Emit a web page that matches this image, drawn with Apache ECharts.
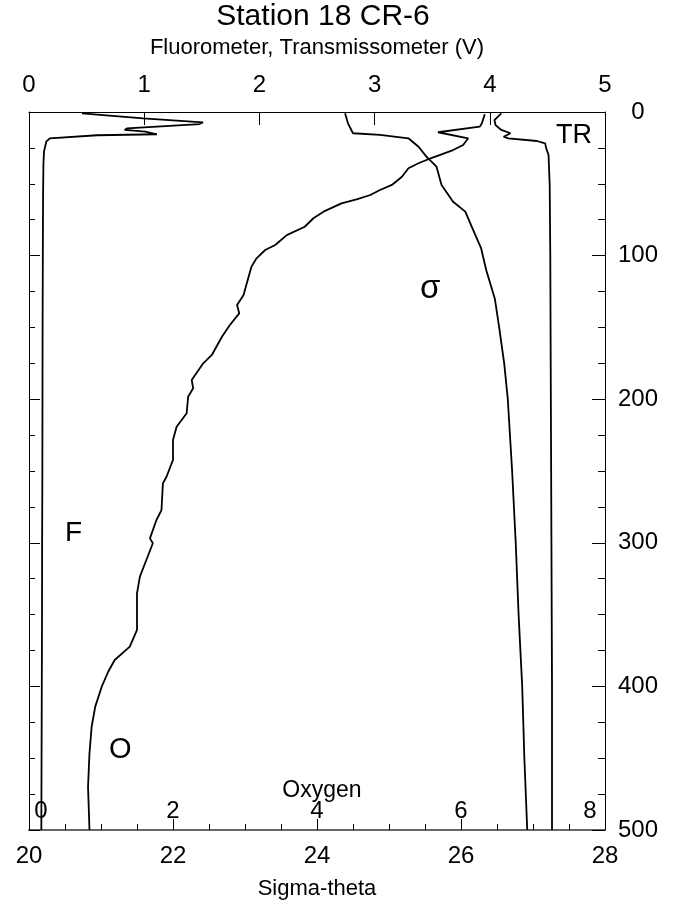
<!DOCTYPE html>
<html>
<head>
<meta charset="utf-8">
<script src="https://cdn.jsdelivr.net/npm/echarts@6/dist/echarts.min.js"></script>
<style>
html,body{margin:0;padding:0;background:#fff;}
#chart{width:685px;height:909px;}
</style>
</head>
<body>
<div id="chart"></div>
<script>
// ---- Data (depth in m) ----
const fluoDepth = [0.9,4.4,7.2,8.4,11.4,12.5,13.7,15.5,16.2,18.3,20.7,27.6,36.9,60,100,150,200,250,300,350,400,450,500];
const fluoV     = [0.46,0.99,1.51,1.48,0.85,0.83,1.01,1.11,0.59,0.18,0.15,0.13,0.125,0.122,0.12,0.118,0.117,0.116,0.114,0.113,0.111,0.109,0.107];

const trDepth = [0.9,5.6,9.1,12.5,14.8,17.2,18.3,20.2,21.8,25.3,29.9,50.8,100,200,300,400,500];
const trV     = [4.10,4.04,4.05,4.10,4.18,4.12,4.16,4.41,4.48,4.49,4.51,4.52,4.525,4.53,4.535,4.54,4.54];

const sigDepth = [0.9,7.9,14.8,16.0,18.3,24.2,31.1,38.1,50.8,62.5,69.4,80,95,110,130,150,175,200,250,300,350,400,450,500];
const sigma    = [24.39,24.43,24.50,24.875,25.27,25.41,25.52,25.66,25.73,25.89,26.06,26.15,26.28,26.35,26.47,26.53,26.60,26.65,26.71,26.76,26.80,26.85,26.88,26.92];

const oxyDepth = [1.6,7.9,10.2,14.1,18.3,23.0,26.5,29.9,33.4,35.7,39.2,45.1,50.8,54.3,57.8,60.8,63.6,69.4,74.0,79.9,85.7,92.6,96.1,101.9,107.7,114.7,127.4,134.4,140.2,148.3,156.5,169.2,175.0,186.6,192.4,198.3,209.8,219.2,228.4,242.3,254.0,258.6,277.2,284.1,296.9,300.3,312.0,323.6,335.2,360.7,372.3,381.6,389.8,400.2,414.1,428.1,446.6,469.9,500];
const oxygen   = [6.33,6.29,6.26,5.68,6.10,6.03,5.89,5.71,5.52,5.41,5.27,5.18,5.04,4.875,4.74,4.55,4.34,4.09,3.95,3.83,3.58,3.42,3.28,3.16,3.09,3.05,2.98,2.89,2.92,2.79,2.68,2.54,2.42,2.26,2.28,2.21,2.19,2.05,2.00,2.00,1.91,1.86,1.84,1.77,1.68,1.72,1.63,1.54,1.50,1.50,1.40,1.19,1.10,1.01,0.92,0.87,0.84,0.82,0.84];

// Axis ranges / ticks
const topTicks   = {min:0, max:5, interval:1};
const sigmaTicks = {min:20, max:28, interval:2};
const oxyTicks   = {min:0, max:8, interval:2};
const depthTicks = {min:0, max:500, interval:100};

const FONT = 'Liberation Sans, Arial, sans-serif';
const pair = (xs, ys) => ys.map((d, i) => [xs[i], d]);

const chart = echarts.init(document.getElementById('chart'), null, {renderer:'canvas'});
const lineStyle = {color:'#000', width:1.8};
const LBL = 24;

chart.setOption({
  animation:false,
  backgroundColor:'#fff',
  title:[
    {text:'Station 18 CR-6', left:318, textAlign:'center', top:-3, textStyle:{fontFamily:FONT, fontSize:30, fontWeight:'normal', color:'#000'}},
    {text:'Oxygen', left:317, textAlign:'center', top:774, textStyle:{fontFamily:FONT, fontSize:23, fontWeight:'normal', color:'#000'}}
  ],
  grid:{left:29, right:80, top:112, bottom:79, outerBoundsMode:'none', containLabel:false},
  xAxis:[
    {type:'value', position:'top', min:topTicks.min, max:topTicks.max, interval:topTicks.interval,
     name:'Fluorometer, Transmissometer (V)', nameLocation:'middle', nameGap:53,
     nameTextStyle:{fontFamily:FONT, fontSize:22, color:'#000'},
     axisLine:{show:true, onZero:false, lineStyle:{color:'#000', width:1}},
     axisTick:{show:true, inside:true, length:13, lineStyle:{color:'#000'}},
     axisLabel:{fontFamily:FONT, fontSize:LBL, color:'#000', margin:15},
     splitLine:{show:false}},
    {type:'value', position:'bottom', min:sigmaTicks.min, max:sigmaTicks.max, interval:sigmaTicks.interval,
     name:'Sigma-theta', nameLocation:'middle', nameGap:48,
     nameTextStyle:{fontFamily:FONT, fontSize:22, color:'#000'},
     axisLine:{show:true, onZero:false, lineStyle:{color:'#666', width:2}},
     axisTick:{show:true, inside:true, length:11, lineStyle:{color:'#000'}},
     minorTick:{show:true, splitNumber:4, length:6, lineStyle:{color:'#000'}},
     axisLabel:{fontFamily:FONT, fontSize:LBL, color:'#000', margin:14},
     splitLine:{show:false}, minorSplitLine:{show:false}},
    {type:'value', position:'bottom', min:oxyTicks.min, max:oxyTicks.max, interval:oxyTicks.interval,
     axisLine:{show:false, onZero:false}, axisTick:{show:false},
     axisLabel:{inside:true, fontFamily:FONT, fontSize:LBL, color:'#000', margin:7,
       formatter:function(v){ if(v===oxyTicks.min) return '{l|'+v+'}'; if(v===oxyTicks.max) return '{r|'+v+'}'; return String(v); },
       rich:{l:{fontFamily:FONT, fontSize:LBL, color:'#000', padding:[0,0,0,24]}, r:{fontFamily:FONT, fontSize:LBL, color:'#000', padding:[0,30,0,0]}}},
     splitLine:{show:false}}
  ],
  yAxis:[
    {type:'value', position:'right', inverse:true, min:depthTicks.min, max:depthTicks.max, interval:depthTicks.interval,
     axisLine:{show:true, onZero:false, lineStyle:{color:'#000', width:1}},
     axisTick:{show:true, inside:true, length:13, lineStyle:{color:'#000'}},
     minorTick:{show:true, splitNumber:4, length:7, lineStyle:{color:'#000'}},
     axisLabel:{fontFamily:FONT, fontSize:LBL, color:'#000', margin:33, align:'center'},
     splitLine:{show:false}, minorSplitLine:{show:false}},
    {type:'value', position:'left', inverse:true, min:depthTicks.min, max:depthTicks.max, interval:depthTicks.interval,
     axisLine:{show:true, onZero:false, lineStyle:{color:'#000', width:1}},
     axisTick:{show:true, inside:true, length:11, lineStyle:{color:'#000'}},
     minorTick:{show:true, splitNumber:4, length:6, lineStyle:{color:'#000'}},
     axisLabel:{show:false},
     splitLine:{show:false}, minorSplitLine:{show:false}}
  ],
  series:[
    {name:'F', type:'line', xAxisIndex:0, yAxisIndex:0, data:pair(fluoV, fluoDepth), showSymbol:false, symbol:'none', lineStyle:lineStyle, clip:true},
    {name:'TR', type:'line', xAxisIndex:0, yAxisIndex:0, data:pair(trV, trDepth), showSymbol:false, symbol:'none', lineStyle:lineStyle, clip:true},
    {name:'σ', type:'line', xAxisIndex:1, yAxisIndex:0, data:pair(sigma, sigDepth), showSymbol:false, symbol:'none', lineStyle:lineStyle, clip:true},
    {name:'O', type:'line', xAxisIndex:2, yAxisIndex:0, data:pair(oxygen, oxyDepth), showSymbol:false, symbol:'none', lineStyle:lineStyle, clip:true}
  ],
  graphic:[
    {type:'text', left:65, top:519, style:{text:'F', font:'28px Liberation Sans, Arial, sans-serif', fill:'#000'}},
    {type:'text', left:109, top:735, style:{text:'O', font:'29px Liberation Sans, Arial, sans-serif', fill:'#000'}},
    {type:'text', left:420, top:272, style:{text:'σ', font:'33px Liberation Sans, Arial, sans-serif', fill:'#000'}},
    {type:'text', left:556, top:122, style:{text:'TR', font:'27px Liberation Sans, Arial, sans-serif', fill:'#000'}}
  ]
});
</script>
</body>
</html>
